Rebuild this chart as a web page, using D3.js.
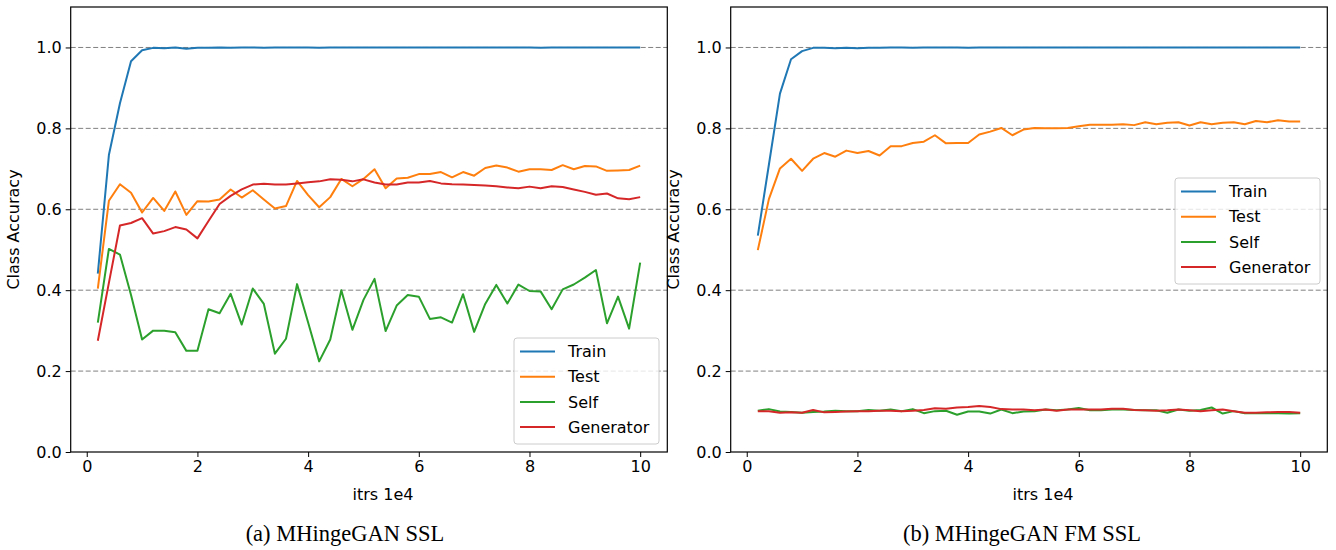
<!DOCTYPE html>
<html>
<head>
<meta charset="utf-8">
<script src="https://cdn.jsdelivr.net/npm/d3@7"></script>
<style>
  body { margin: 0; background: #fff; }
  text { font-family: "DejaVu Sans", sans-serif; }
  .caption { font-family: "Liberation Serif", "Times New Roman", serif; }
</style>
</head>
<body>
<svg id="chart" width="1336" height="550"></svg>
<script>
// iterations (x 1e4)
var itrs = [0.2, 0.4, 0.6, 0.8, 1.0, 1.2, 1.4, 1.6, 1.8, 2.0,
            2.2, 2.4, 2.6, 2.8, 3.0, 3.2, 3.4, 3.6, 3.8, 4.0,
            4.2, 4.4, 4.6, 4.8, 5.0, 5.2, 5.4, 5.6, 5.8, 6.0,
            6.2, 6.4, 6.6, 6.8, 7.0, 7.2, 7.4, 7.6, 7.8, 8.0,
            8.2, 8.4, 8.6, 8.8, 9.0, 9.2, 9.4, 9.6, 9.8, 10.0];

var seriesNames = ['Train', 'Test', 'Self', 'Generator'];
var xTicks = [0, 2, 4, 6, 8, 10];
var yTicks = [0.0, 0.2, 0.4, 0.6, 0.8, 1.0];

// (a) MHingeGAN SSL
var trainA = [0.441, 0.734, 0.862, 0.966, 0.993, 0.999, 0.998, 1.0, 0.997, 0.999,
              0.999, 1.0, 0.999, 1.0, 1.0, 0.999, 1.0, 1.0, 1.0, 1.0,
              0.999, 1.0, 1.0, 1.0, 1.0, 1.0, 1.0, 1.0, 1.0, 1.0,
              1.0, 1.0, 1.0, 1.0, 1.0, 1.0, 1.0, 1.0, 1.0, 1.0,
              0.999, 1.0, 1.0, 1.0, 1.0, 1.0, 1.0, 1.0, 1.0, 1.0];
var testA = [0.404, 0.621, 0.662, 0.641, 0.592, 0.628, 0.596, 0.644, 0.586, 0.620,
             0.619, 0.624, 0.649, 0.629, 0.647, 0.624, 0.602, 0.608, 0.670, 0.635,
             0.605, 0.630, 0.675, 0.657, 0.675, 0.699, 0.652, 0.676, 0.678, 0.687,
             0.687, 0.692, 0.679, 0.692, 0.683, 0.702, 0.708, 0.703, 0.693, 0.699,
             0.699, 0.697, 0.709, 0.699, 0.707, 0.706, 0.695, 0.696, 0.697, 0.708];
var selfA = [0.320, 0.502, 0.488, 0.388, 0.278, 0.300, 0.300, 0.296, 0.250, 0.250,
             0.353, 0.343, 0.391, 0.315, 0.404, 0.366, 0.243, 0.280, 0.415, 0.320,
             0.224, 0.278, 0.400, 0.302, 0.376, 0.428, 0.299, 0.362, 0.388, 0.384,
             0.329, 0.333, 0.320, 0.390, 0.297, 0.366, 0.413, 0.367, 0.414, 0.398,
             0.397, 0.353, 0.402, 0.414, 0.431, 0.450, 0.318, 0.384, 0.305, 0.468];
var genA = [0.275, 0.418, 0.560, 0.566, 0.578, 0.540, 0.546, 0.556, 0.550, 0.528,
            0.571, 0.613, 0.633, 0.649, 0.661, 0.663, 0.661, 0.661, 0.664, 0.667,
            0.669, 0.674, 0.673, 0.669, 0.674, 0.666, 0.661, 0.661, 0.666, 0.666,
            0.670, 0.664, 0.662, 0.661, 0.660, 0.659, 0.657, 0.654, 0.652, 0.656,
            0.652, 0.657, 0.655, 0.649, 0.643, 0.636, 0.639, 0.627, 0.625, 0.630];

// (b) MHingeGAN FM SSL
var trainB = [0.535, 0.710, 0.886, 0.971, 0.991, 0.999, 0.999, 0.998, 0.999, 0.998,
              0.999, 0.999, 1.0, 1.0, 0.999, 1.0, 1.0, 1.0, 1.0, 0.999,
              1.0, 1.0, 1.0, 1.0, 1.0, 1.0, 1.0, 1.0, 1.0, 1.0,
              1.0, 1.0, 1.0, 1.0, 1.0, 1.0, 1.0, 1.0, 1.0, 1.0,
              1.0, 1.0, 1.0, 1.0, 1.0, 1.0, 1.0, 1.0, 1.0, 1.0];
var testB = [0.499, 0.625, 0.701, 0.725, 0.695, 0.725, 0.739, 0.730, 0.745, 0.739,
             0.744, 0.733, 0.756, 0.756, 0.764, 0.767, 0.783, 0.763, 0.764, 0.764,
             0.785, 0.792, 0.801, 0.783, 0.797, 0.801, 0.800, 0.800, 0.801, 0.805,
             0.809, 0.809, 0.809, 0.810, 0.808, 0.815, 0.810, 0.814, 0.815, 0.807,
             0.815, 0.810, 0.814, 0.815, 0.810, 0.818, 0.815, 0.820, 0.817, 0.817];
var selfB = [0.102, 0.106, 0.100, 0.099, 0.097, 0.099, 0.100, 0.102, 0.101, 0.101,
             0.104, 0.102, 0.105, 0.101, 0.106, 0.096, 0.101, 0.102, 0.092, 0.100,
             0.100, 0.095, 0.105, 0.096, 0.100, 0.101, 0.105, 0.103, 0.105, 0.109,
             0.103, 0.103, 0.105, 0.105, 0.104, 0.103, 0.103, 0.097, 0.105, 0.102,
             0.104, 0.110, 0.095, 0.101, 0.096, 0.096, 0.096, 0.096, 0.095, 0.096];
var genB = [0.101, 0.101, 0.097, 0.098, 0.097, 0.104, 0.098, 0.099, 0.100, 0.101,
            0.101, 0.102, 0.102, 0.101, 0.102, 0.104, 0.108, 0.107, 0.110, 0.111,
            0.114, 0.111, 0.106, 0.105, 0.105, 0.103, 0.105, 0.102, 0.105, 0.105,
            0.105, 0.105, 0.107, 0.107, 0.104, 0.103, 0.102, 0.103, 0.105, 0.103,
            0.101, 0.103, 0.105, 0.101, 0.097, 0.097, 0.098, 0.099, 0.099, 0.097];

var colors = ['#1f77b4', '#ff7f0e', '#2ca02c', '#d62728'];

var svg = d3.select('#chart');

function panel(left, right, caption, captionX, series, legendPos) {
        var top = 7, bottom = 452;
        var x = d3.scaleLinear().domain([-0.29, 10.49]).range([left, right]);
        var y = d3.scaleLinear().domain([0, 1.1]).range([bottom, top]);
        var g = svg.append('g');

        // horizontal dashed grid
        g.selectAll('.grid').data(yTicks.slice(1)).enter().append('line')
                .attr('x1', left).attr('x2', right)
                .attr('y1', function (d) { return y(d); })
                .attr('y2', function (d) { return y(d); })
                .attr('stroke', '#808080').attr('stroke-width', 1)
                .attr('stroke-dasharray', '5,2.5');

        // series lines
        var line = d3.line()
                .x(function (d, i) { return x(itrs[i]); })
                .y(function (d) { return y(d); });
        series.forEach(function (s, i) {
                g.append('path').datum(s)
                        .attr('d', line)
                        .attr('fill', 'none')
                        .attr('stroke', colors[i])
                        .attr('stroke-width', 2)
                        .attr('stroke-linejoin', 'round');
        });

        // axes
        var xa = g.append('g').attr('transform', 'translate(0,' + bottom + ')')
                .call(d3.axisBottom(x).tickValues(xTicks).tickSize(5).tickPadding(4)
                        .tickFormat(d3.format('d')));
        var ya = g.append('g').attr('transform', 'translate(' + left + ',0)')
                .call(d3.axisLeft(y).tickValues(yTicks).tickSize(5).tickPadding(4)
                        .tickFormat(d3.format('.1f')));
        [xa, ya].forEach(function (a) {
                a.select('.domain').remove();
                a.selectAll('text').attr('font-size', 16).attr('fill', '#000')
                        .style('font-family', '"DejaVu Sans", sans-serif');
                a.selectAll('line').attr('stroke', '#000');
        });

        // frame
        g.append('rect').attr('x', left).attr('y', top)
                .attr('width', right - left).attr('height', bottom - top)
                .attr('fill', 'none').attr('stroke', '#000').attr('stroke-width', 1.2);

        // axis labels
        g.append('text').attr('x', (left + right) / 2 + 14).attr('y', 500)
                .attr('text-anchor', 'middle').attr('font-size', 16).text('itrs 1e4');
        g.append('text')
                .attr('transform', 'translate(' + (left - 52) + ',' + ((top + bottom) / 2) + ') rotate(-90)')
                .attr('text-anchor', 'middle').attr('font-size', 16).text('Class Accuracy');

        // caption
        g.append('text').attr('class', 'caption')
                .attr('x', captionX).attr('y', 541)
                .attr('text-anchor', 'middle').attr('font-size', 22.5).text(caption);

        // legend
        var lg = g.append('g').attr('transform', 'translate(' + legendPos[0] + ',' + legendPos[1] + ')');
        lg.append('rect').attr('width', 145).attr('height', 106).attr('rx', 3)
                .attr('fill', '#fff').attr('fill-opacity', 0.8)
                .attr('stroke', '#cccccc').attr('stroke-width', 1);
        seriesNames.forEach(function (n, i) {
                var ry = 13.5 + i * 25.2;
                lg.append('line').attr('x1', 6).attr('x2', 41)
                        .attr('y1', ry).attr('y2', ry)
                        .attr('stroke', colors[i]).attr('stroke-width', 2);
                lg.append('text').attr('x', 54).attr('y', ry)
                        .attr('dy', '0.36em').attr('font-size', 16).text(n);
        });
}

panel(70.7, 667.3, '(a) MHingeGAN SSL', 345, [trainA, testA, selfA, genA], [514, 338]);
panel(730.7, 1327.3, '(b) MHingeGAN FM SSL', 1022, [trainB, testB, selfB, genB], [1175, 178]);
</script>
</body>
</html>
